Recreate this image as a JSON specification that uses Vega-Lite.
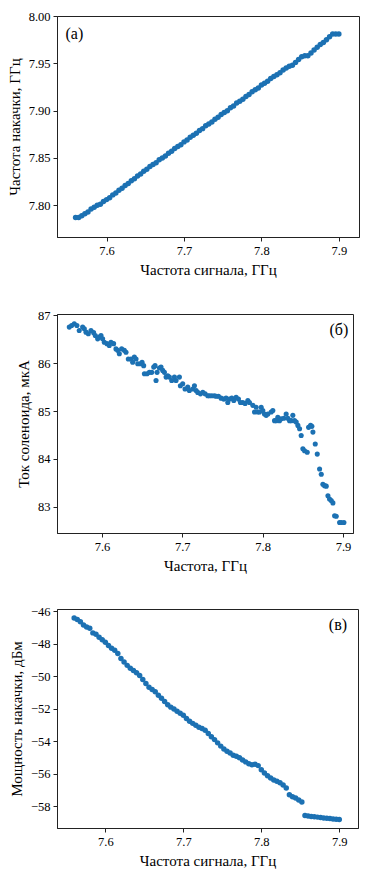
{
"$schema": "https://vega.github.io/schema/vega-lite/v6.json",
"background": "white",
"padding": {"left": 6, "top": 9, "right": 5, "bottom": 5},
"spacing": 30,
"config": {
 "font": "Liberation Serif",
 "view": {"stroke": "#222", "strokeWidth": 1},
 "axis": {"grid": false, "domainColor": "#222", "tickColor": "#222", "tickSize": 4, "labelFontSize": 12.5, "labelColor": "#000", "titleFontSize": 15, "titleFontWeight": "normal", "titleColor": "#000", "labelFont": "Liberation Serif", "titleFont": "Liberation Serif", "labelPadding": 3, "titlePadding": 6, "labelFlush": false, "labelOverlap": false}
},
"datasets": {
"a": [
{"x":7.560,"y":7.787},{"x":7.564,"y":7.787},{"x":7.568,"y":7.789},{"x":7.572,"y":7.791},{"x":7.576,"y":7.793},{"x":7.580,"y":7.796},{"x":7.584,"y":7.798},{"x":7.588,"y":7.800},{"x":7.592,"y":7.801},{"x":7.596,"y":7.804},
{"x":7.600,"y":7.806},{"x":7.604,"y":7.808},{"x":7.608,"y":7.811},{"x":7.612,"y":7.813},{"x":7.616,"y":7.816},{"x":7.620,"y":7.818},{"x":7.624,"y":7.821},{"x":7.628,"y":7.823},{"x":7.632,"y":7.826},{"x":7.636,"y":7.828},
{"x":7.640,"y":7.831},{"x":7.644,"y":7.833},{"x":7.648,"y":7.836},{"x":7.652,"y":7.838},{"x":7.656,"y":7.841},{"x":7.660,"y":7.843},{"x":7.664,"y":7.845},{"x":7.668,"y":7.848},{"x":7.672,"y":7.850},{"x":7.676,"y":7.852},
{"x":7.680,"y":7.855},{"x":7.684,"y":7.857},{"x":7.688,"y":7.860},{"x":7.692,"y":7.862},{"x":7.696,"y":7.864},{"x":7.700,"y":7.867},{"x":7.704,"y":7.869},{"x":7.708,"y":7.872},{"x":7.712,"y":7.874},{"x":7.716,"y":7.876},
{"x":7.720,"y":7.879},{"x":7.724,"y":7.881},{"x":7.728,"y":7.884},{"x":7.732,"y":7.886},{"x":7.736,"y":7.888},{"x":7.740,"y":7.891},{"x":7.744,"y":7.893},{"x":7.748,"y":7.896},{"x":7.752,"y":7.898},{"x":7.756,"y":7.900},
{"x":7.760,"y":7.903},{"x":7.764,"y":7.905},{"x":7.768,"y":7.908},{"x":7.772,"y":7.910},{"x":7.776,"y":7.912},{"x":7.780,"y":7.915},{"x":7.784,"y":7.917},{"x":7.788,"y":7.920},{"x":7.792,"y":7.922},{"x":7.796,"y":7.924},
{"x":7.800,"y":7.927},{"x":7.804,"y":7.929},{"x":7.808,"y":7.931},{"x":7.812,"y":7.934},{"x":7.816,"y":7.936},{"x":7.820,"y":7.938},{"x":7.824,"y":7.940},{"x":7.828,"y":7.943},{"x":7.832,"y":7.945},{"x":7.836,"y":7.947},
{"x":7.840,"y":7.948},{"x":7.844,"y":7.951},{"x":7.848,"y":7.954},{"x":7.852,"y":7.957},{"x":7.856,"y":7.958},{"x":7.860,"y":7.958},{"x":7.864,"y":7.961},{"x":7.868,"y":7.964},{"x":7.872,"y":7.967},{"x":7.876,"y":7.970},
{"x":7.880,"y":7.972},{"x":7.884,"y":7.975},{"x":7.888,"y":7.978},{"x":7.892,"y":7.981},{"x":7.896,"y":7.981},{"x":7.900,"y":7.981}
],
"b": [
{"x":7.5593,"y":86.756},{"x":7.5622,"y":86.79},{"x":7.5655,"y":86.825},{"x":7.5688,"y":86.79},{"x":7.5717,"y":86.686},{"x":7.5759,"y":86.756},{"x":7.578,"y":86.72},{"x":7.5801,"y":86.65},{"x":7.583,"y":86.616},{"x":7.5863,"y":86.686},
{"x":7.5896,"y":86.64},{"x":7.5917,"y":86.58},{"x":7.5946,"y":86.51},{"x":7.5967,"y":86.546},{"x":7.5988,"y":86.58},{"x":7.6008,"y":86.51},{"x":7.6029,"y":86.44},{"x":7.6062,"y":86.41},{"x":7.6091,"y":86.37},{"x":7.6112,"y":86.44},
{"x":7.6145,"y":86.41},{"x":7.6174,"y":86.30},{"x":7.6195,"y":86.27},{"x":7.6216,"y":86.20},{"x":7.6245,"y":86.30},{"x":7.6278,"y":86.27},{"x":7.6299,"y":86.23},{"x":7.6328,"y":86.09},{"x":7.6361,"y":86.09},{"x":7.6382,"y":86.02},
{"x":7.6403,"y":86.13},{"x":7.6424,"y":86.09},{"x":7.6445,"y":85.99},{"x":7.6478,"y":85.99},{"x":7.6499,"y":86.02},{"x":7.6519,"y":85.95},{"x":7.6528,"y":85.78},{"x":7.6561,"y":85.78},{"x":7.659,"y":85.81},{"x":7.6619,"y":85.81},
{"x":7.6644,"y":85.92},{"x":7.6661,"y":85.95},{"x":7.6673,"y":85.64},{"x":7.6686,"y":85.81},{"x":7.6715,"y":85.90},{"x":7.6735,"y":85.92},{"x":7.6756,"y":85.85},{"x":7.6777,"y":85.81},{"x":7.6798,"y":85.71},{"x":7.6818,"y":85.74},
{"x":7.6839,"y":85.71},{"x":7.6868,"y":85.64},{"x":7.6902,"y":85.71},{"x":7.6922,"y":85.64},{"x":7.6964,"y":85.71},{"x":7.6976,"y":85.53},{"x":7.7005,"y":85.57},{"x":7.7034,"y":85.46},{"x":7.7068,"y":85.50},{"x":7.7088,"y":85.43},
{"x":7.713,"y":85.46},{"x":7.7151,"y":85.53},{"x":7.7172,"y":85.43},{"x":7.7192,"y":85.39},{"x":7.7226,"y":85.36},{"x":7.7255,"y":85.39},{"x":7.7284,"y":85.36},{"x":7.7317,"y":85.32},{"x":7.7338,"y":85.32},{"x":7.7367,"y":85.32},
{"x":7.74,"y":85.32},{"x":7.7421,"y":85.31},{"x":7.745,"y":85.31},{"x":7.7483,"y":85.27},{"x":7.7516,"y":85.25},{"x":7.7545,"y":85.27},{"x":7.7566,"y":85.18},{"x":7.7587,"y":85.25},{"x":7.7616,"y":85.27},{"x":7.7641,"y":85.22},
{"x":7.767,"y":85.29},{"x":7.7699,"y":85.25},{"x":7.7724,"y":85.18},{"x":7.7753,"y":85.18},{"x":7.7782,"y":85.16},{"x":7.7816,"y":85.22},{"x":7.7836,"y":85.18},{"x":7.7878,"y":85.12},{"x":7.7899,"y":84.98},{"x":7.7919,"y":85.08},
{"x":7.794,"y":84.98},{"x":7.7961,"y":84.98},{"x":7.7982,"y":85.08},{"x":7.8002,"y":85.01},{"x":7.8023,"y":84.94},{"x":7.8044,"y":84.91},{"x":7.8065,"y":84.94},{"x":7.8106,"y":84.98},{"x":7.8127,"y":85.01},{"x":7.8148,"y":84.80},
{"x":7.8169,"y":84.80},{"x":7.8189,"y":84.87},{"x":7.821,"y":84.80},{"x":7.8231,"y":84.84},{"x":7.8264,"y":84.85},{"x":7.8293,"y":84.94},{"x":7.8314,"y":84.85},{"x":7.8335,"y":84.80},{"x":7.8356,"y":84.80},{"x":7.8376,"y":84.91},
{"x":7.8397,"y":84.80},{"x":7.8418,"y":84.77},{"x":7.8439,"y":84.70},{"x":7.846,"y":84.63},{"x":7.848,"y":84.49},{"x":7.8501,"y":84.21},{"x":7.8522,"y":84.17},{"x":7.8555,"y":84.14},{"x":7.8572,"y":84.66},{"x":7.8597,"y":84.70},
{"x":7.8613,"y":84.68},{"x":7.8626,"y":84.56},{"x":7.8655,"y":84.31},{"x":7.868,"y":84.10},{"x":7.8709,"y":83.79},{"x":7.873,"y":83.68},{"x":7.875,"y":83.47},{"x":7.8771,"y":83.44},{"x":7.8792,"y":83.43},{"x":7.8813,"y":83.23},
{"x":7.8833,"y":83.16},{"x":7.8854,"y":83.13},{"x":7.8875,"y":83.08},{"x":7.8896,"y":82.81},{"x":7.8916,"y":82.80},{"x":7.8958,"y":82.67},{"x":7.8979,"y":82.67},{"x":7.9012,"y":82.67}
],
"c": [
{"x":7.560,"y":-46.42},{"x":7.564,"y":-46.50},{"x":7.568,"y":-46.65},{"x":7.572,"y":-46.85},{"x":7.576,"y":-46.97},{"x":7.580,"y":-47.05},{"x":7.584,"y":-47.33},{"x":7.588,"y":-47.42},{"x":7.592,"y":-47.60},{"x":7.596,"y":-47.75},
{"x":7.600,"y":-47.91},{"x":7.604,"y":-48.10},{"x":7.608,"y":-48.27},{"x":7.612,"y":-48.40},{"x":7.616,"y":-48.60},{"x":7.620,"y":-48.90},{"x":7.624,"y":-49.12},{"x":7.628,"y":-49.33},{"x":7.632,"y":-49.50},{"x":7.636,"y":-49.64},
{"x":7.640,"y":-49.78},{"x":7.644,"y":-49.95},{"x":7.648,"y":-50.20},{"x":7.652,"y":-50.45},{"x":7.656,"y":-50.68},{"x":7.660,"y":-50.82},{"x":7.664,"y":-50.95},{"x":7.668,"y":-51.17},{"x":7.672,"y":-51.35},{"x":7.676,"y":-51.56},
{"x":7.680,"y":-51.76},{"x":7.684,"y":-51.90},{"x":7.688,"y":-52.02},{"x":7.692,"y":-52.15},{"x":7.696,"y":-52.28},{"x":7.700,"y":-52.40},{"x":7.704,"y":-52.60},{"x":7.708,"y":-52.77},{"x":7.712,"y":-52.90},{"x":7.716,"y":-53.02},
{"x":7.720,"y":-53.14},{"x":7.724,"y":-53.21},{"x":7.728,"y":-53.32},{"x":7.732,"y":-53.52},{"x":7.736,"y":-53.72},{"x":7.740,"y":-53.90},{"x":7.744,"y":-54.10},{"x":7.748,"y":-54.30},{"x":7.752,"y":-54.48},{"x":7.756,"y":-54.62},
{"x":7.760,"y":-54.73},{"x":7.764,"y":-54.86},{"x":7.768,"y":-54.93},{"x":7.772,"y":-55.01},{"x":7.776,"y":-55.15},{"x":7.780,"y":-55.27},{"x":7.784,"y":-55.39},{"x":7.788,"y":-55.45},{"x":7.792,"y":-55.42},{"x":7.796,"y":-55.50},
{"x":7.800,"y":-55.75},{"x":7.804,"y":-55.95},{"x":7.808,"y":-56.12},{"x":7.812,"y":-56.26},{"x":7.816,"y":-56.38},{"x":7.820,"y":-56.46},{"x":7.824,"y":-56.55},{"x":7.828,"y":-56.70},{"x":7.832,"y":-56.88},{"x":7.836,"y":-57.30},
{"x":7.840,"y":-57.42},{"x":7.844,"y":-57.50},{"x":7.848,"y":-57.62},{"x":7.852,"y":-57.74},{"x":7.856,"y":-58.57},{"x":7.860,"y":-58.60},{"x":7.864,"y":-58.63},{"x":7.868,"y":-58.65},{"x":7.872,"y":-58.67},{"x":7.876,"y":-58.70},
{"x":7.880,"y":-58.72},{"x":7.884,"y":-58.74},{"x":7.888,"y":-58.76},{"x":7.892,"y":-58.78},{"x":7.896,"y":-58.80},{"x":7.900,"y":-58.82}
]
},
"vconcat": [
{
 "width": 302, "height": 221,
 "layer": [
  {"data": {"name": "a"}, "mark": {"type": "circle", "size": 30, "color": "#1c71b3", "opacity": 1},
   "encoding": {
    "x": {"field": "x", "type": "quantitative", "scale": {"domain": [7.536, 7.926], "nice": false, "zero": false}, "axis": {"values": [7.6, 7.7, 7.8, 7.9], "format": ".1f", "title": "Частота сигнала, ГГц"}},
    "y": {"field": "y", "type": "quantitative", "scale": {"domain": [7.7665, 8.0], "nice": false, "zero": false}, "axis": {"values": [7.8, 7.85, 7.9, 7.95, 8.0], "format": ".2f", "title": "Частота накачки, ГГц"}}
   }},
  {"data": {"values": [{}]}, "mark": {"type": "text", "text": "(а)", "align": "left", "baseline": "middle", "font": "Liberation Serif", "fontSize": 16, "color": "#000"},
   "encoding": {"x": {"datum": 7.547, "type": "quantitative"}, "y": {"datum": 7.981, "type": "quantitative"}}}
 ]
},
{
 "width": 296, "height": 219,
 "layer": [
  {"data": {"name": "b"}, "mark": {"type": "circle", "size": 26, "color": "#1c71b3", "opacity": 1},
   "encoding": {
    "x": {"field": "x", "type": "quantitative", "scale": {"domain": [7.544, 7.9125], "nice": false, "zero": false}, "axis": {"values": [7.6, 7.7, 7.8, 7.9], "format": ".1f", "title": "Частота, ГГц"}},
    "y": {"field": "y", "type": "quantitative", "scale": {"domain": [82.45, 87.03], "nice": false, "zero": false}, "axis": {"values": [83, 84, 85, 86, 87], "format": "d", "title": "Ток соленоида, мкА"}}
   }},
  {"data": {"values": [{}]}, "mark": {"type": "text", "text": "(б)", "align": "right", "baseline": "middle", "font": "Liberation Serif", "fontSize": 16, "color": "#000"},
   "encoding": {"x": {"datum": 7.9067, "type": "quantitative"}, "y": {"datum": 86.69, "type": "quantitative"}}}
 ]
},
{
 "width": 301, "height": 219,
 "layer": [
  {"data": {"name": "c"}, "mark": {"type": "circle", "size": 30, "color": "#1c71b3", "opacity": 1},
   "encoding": {
    "x": {"field": "x", "type": "quantitative", "scale": {"domain": [7.538, 7.924], "nice": false, "zero": false}, "axis": {"values": [7.6, 7.7, 7.8, 7.9], "format": ".1f", "title": "Частота сигнала, ГГц"}},
    "y": {"field": "y", "type": "quantitative", "scale": {"domain": [-59.34, -45.86], "nice": false, "zero": false}, "axis": {"values": [-58, -56, -54, -52, -50, -48, -46], "format": "d", "labelOverlap": false, "labelBound": false, "tickCount": 7, "title": "Мощность накачки, дБм"}}
   }},
  {"data": {"values": [{}]}, "mark": {"type": "text", "text": "(в)", "align": "right", "baseline": "middle", "font": "Liberation Serif", "fontSize": 16, "color": "#000"},
   "encoding": {"x": {"datum": 7.91, "type": "quantitative"}, "y": {"datum": -46.86, "type": "quantitative"}}}
 ]
}
]
}
